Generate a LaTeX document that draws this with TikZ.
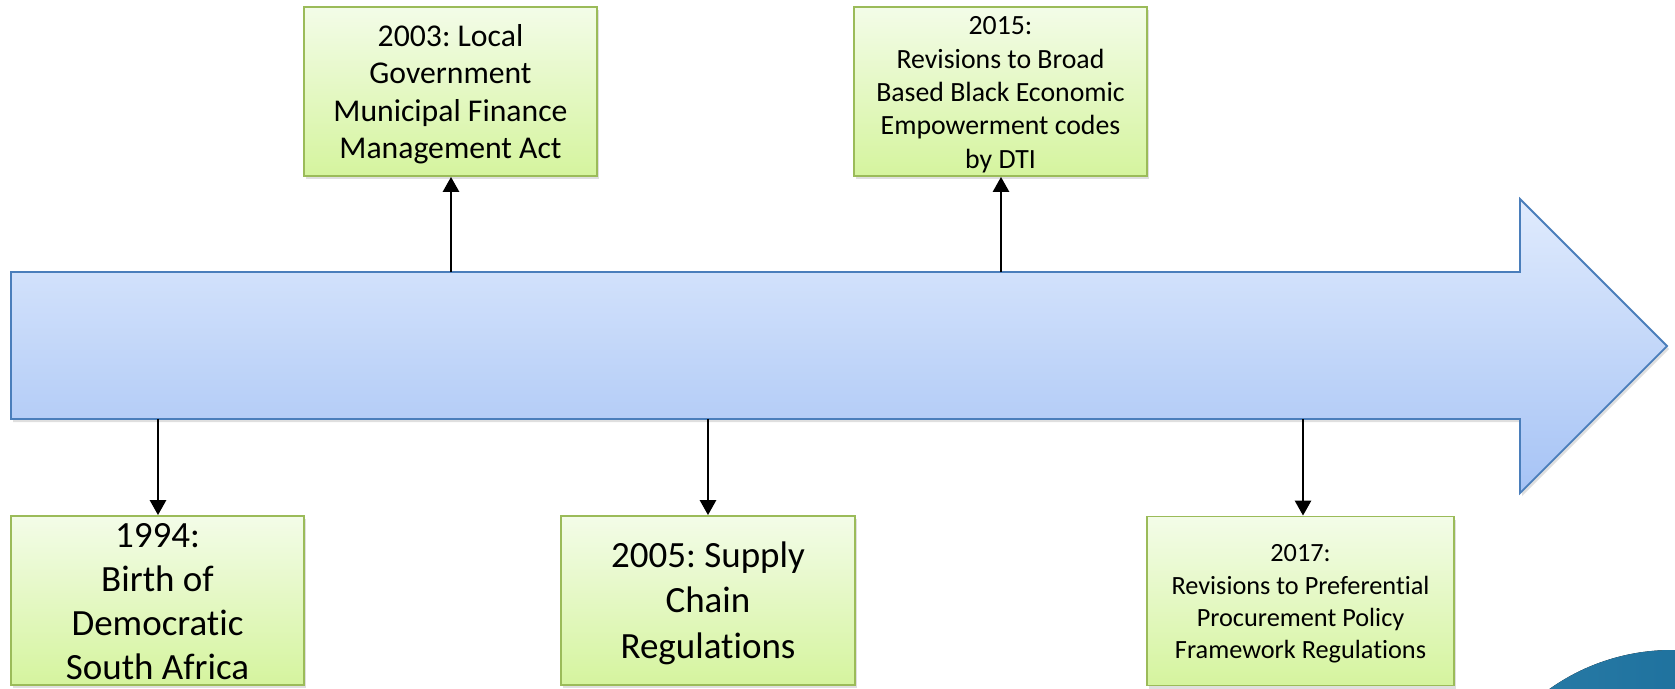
\documentclass[tikz,border=0pt]{standalone}
\usepackage{fontspec}
\setmainfont[Ligatures=NoCommon]{Carlito}
\usetikzlibrary{arrows.meta,shadows}
\definecolor{arrowedge}{HTML}{4A7EBB}
\definecolor{arrowtop}{HTML}{E0EBFD}
\definecolor{arrowbot}{HTML}{A6C3F5}
\definecolor{boxedge}{HTML}{9BBB59}
\definecolor{boxtop}{HTML}{F3FCE8}
\definecolor{boxbot}{HTML}{D5F49E}
\definecolor{discleft}{HTML}{2C7EA9}
\definecolor{discright}{HTML}{136795}
\frenchspacing
\begin{document}
\begin{tikzpicture}[x=1pt,y=-1pt,
  evbox/.style={draw=boxedge, line width=1.8pt, top color=boxtop, bottom color=boxbot,
    minimum width=#1, minimum height=169pt, inner sep=0pt,
    drop shadow={shadow xshift=2pt, shadow yshift=-3pt, opacity=0.25}},
  evtext/.style={align=center, inner sep=0pt, text=black},
  conn/.style={-{Triangle[width=16pt,length=15pt]}, line width=2.7pt, black},
  bigarrow/.style={draw=arrowedge, line width=1.8pt, top color=arrowtop, bottom color=arrowbot,
    line join=miter,
    drop shadow={shadow xshift=2pt, shadow yshift=-3pt, opacity=0.25}}]
\useasboundingbox (0,0) rectangle (1675,688);

% corner disc
\begin{scope}
\clip (0,0) rectangle (1675,688);
\fill[left color=discleft, right color=discright] (1672,862) circle[radius=212pt];
\end{scope}

% timeline arrow
\path[bigarrow] (11,272) -- (1520,272) -- (1520,199) -- (1667,346) -- (1520,493)
  -- (1520,419) -- (11,419) -- cycle;

% attachment points on the arrow
\coordinate (s1994) at (158,419);
\coordinate (s2003) at (451,272);
\coordinate (s2005) at (708,419);
\coordinate (s2015) at (1001,272);
\coordinate (s2017) at (1303,419);

% boxes
\node[evbox=293pt] (b1994) at (157.5,600.5) {};
\node[evbox=293pt] (b2003) at (450.5,91.5) {};
\node[evbox=294pt] (b2005) at (708,600.5) {};
\node[evbox=293pt] (b2015) at (1000.5,91.5) {};
\node[evbox=307pt] (b2017) at (1300.5,601) {};

% texts
\node[evtext, font=\fontsize{37}{44}\selectfont] (t1994) at (157.5,604.2)
  {\strut 1994:\\Birth of\\Democratic\\South Africa\strut};
\node[evtext, font=\fontsize{31.7}{37.2}\selectfont] (t2003) at (450.5,95.1)
  {\strut 2003: Local\\Government\\Municipal Finance\\Management Act\strut};
\node[evtext, font=\fontsize{37}{45.7}\selectfont] (t2005) at (708,603.6)
  {\strut 2005: Supply\\Chain\\Regulations\strut};
\node[evtext, font=\fontsize{27.8}{33.3}\selectfont] (t2015) at (1000.5,94.9)
  {\strut 2015:\\Revisions to Broad\\Based Black Economic\\Empowerment codes\\by DTI\strut};
\node[evtext, font=\fontsize{26.3}{32.4}\selectfont] (t2017) at (1300.5,603.8)
  {\strut 2017:\\Revisions to Preferential\\Procurement Policy\\Framework Regulations\strut};

% connectors
\draw[conn] (s1994) -- (s1994 |- b1994.north);
\draw[conn] (s2003) -- (s2003 |- b2003.south);
\draw[conn] (s2005) -- (s2005 |- b2005.north);
\draw[conn] (s2015) -- (s2015 |- b2015.south);
\draw[conn] (s2017) -- (s2017 |- b2017.north);
\end{tikzpicture}
\end{document}
